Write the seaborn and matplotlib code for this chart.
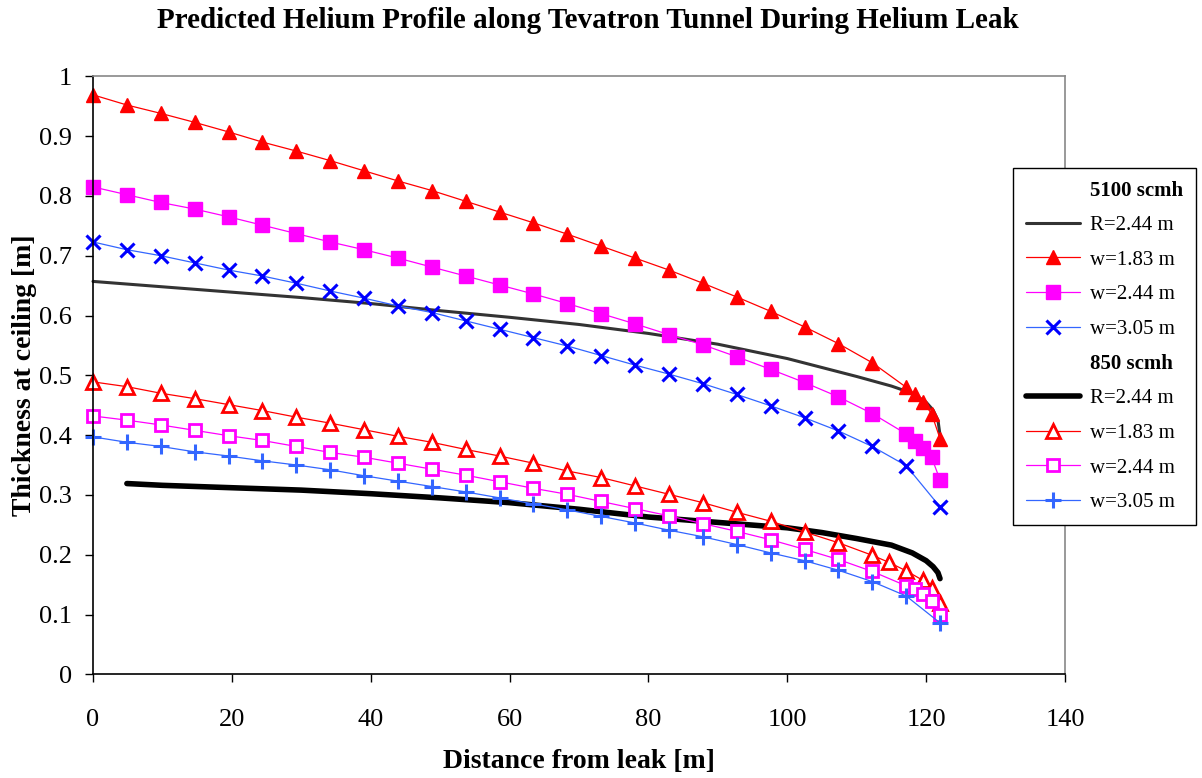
import matplotlib
matplotlib.use("Agg")
import matplotlib.pyplot as plt
from matplotlib.lines import Line2D
from matplotlib.ticker import FuncFormatter
import seaborn as sns

# distances of the marked points [m]
dist_grid = [0, 4.88, 9.76, 14.64, 19.52, 24.40, 29.28, 34.16, 39.04, 43.92,
             48.80, 53.68, 58.56, 63.44, 68.32, 73.20, 78.08, 82.96, 87.84,
             92.72, 97.60, 102.48, 107.36, 112.24, 117.12]
dist_tail = [118.34, 119.56, 120.78, 122.0]
dist_end = [122.0]
dist_tail_850_183 = [114.68, 117.12, 119.56, 120.78, 122.0]

# 5100 scmh
x_5100_R = [0, 10, 20, 30, 40, 50, 60, 70, 80, 90, 100, 105, 110, 115, 118,
            120, 121, 121.7, 122]
y_5100_R = [0.657, 0.648, 0.639, 0.630, 0.620, 0.608, 0.597, 0.585, 0.570,
            0.552, 0.528, 0.513, 0.498, 0.482, 0.470, 0.455, 0.442, 0.425, 0.400]
y_5100_w183 = [0.969, 0.952, 0.938, 0.923, 0.907, 0.890, 0.875, 0.859, 0.842,
               0.825, 0.809, 0.791, 0.773, 0.755, 0.736, 0.716, 0.696, 0.676,
               0.654, 0.631, 0.607, 0.581, 0.553, 0.521, 0.480,
               0.468, 0.455, 0.436, 0.394]
y_5100_w244 = [0.815, 0.802, 0.789, 0.778, 0.765, 0.751, 0.737, 0.723, 0.710,
               0.696, 0.681, 0.666, 0.651, 0.636, 0.620, 0.603, 0.586, 0.568,
               0.551, 0.531, 0.510, 0.488, 0.464, 0.436, 0.402,
               0.390, 0.378, 0.363, 0.325]
y_5100_w305 = [0.723, 0.710, 0.700, 0.688, 0.676, 0.666, 0.654, 0.641, 0.629,
               0.616, 0.605, 0.591, 0.577, 0.563, 0.549, 0.533, 0.517, 0.502,
               0.486, 0.468, 0.449, 0.429, 0.407, 0.381, 0.349,
               0.280]

# 850 scmh
x_850_R = [4.88, 10, 20, 30, 40, 50, 60, 70, 80, 90, 100, 105, 110, 115, 118,
           120, 121, 121.7, 122]
y_850_R = [0.319, 0.316, 0.312, 0.308, 0.302, 0.295, 0.287, 0.276, 0.263,
           0.254, 0.245, 0.237, 0.227, 0.216, 0.203, 0.190, 0.180, 0.170, 0.160]
y_850_w183 = [0.489, 0.481, 0.470, 0.461, 0.451, 0.441, 0.430, 0.420, 0.409,
              0.398, 0.388, 0.376, 0.365, 0.353, 0.340, 0.329, 0.315, 0.301,
              0.287, 0.271, 0.256, 0.238, 0.220, 0.199,
              0.187, 0.173, 0.157, 0.144, 0.119]
y_850_w244 = [0.432, 0.425, 0.417, 0.408, 0.399, 0.391, 0.381, 0.371, 0.363,
              0.353, 0.343, 0.333, 0.322, 0.311, 0.301, 0.289, 0.277, 0.265,
              0.252, 0.239, 0.225, 0.209, 0.192, 0.172, 0.148,
              0.142, 0.134, 0.123, 0.099]
y_850_w305 = [0.397, 0.388, 0.381, 0.372, 0.365, 0.357, 0.350, 0.342, 0.332,
              0.323, 0.314, 0.305, 0.295, 0.285, 0.275, 0.264, 0.253, 0.241,
              0.230, 0.217, 0.203, 0.190, 0.174, 0.155, 0.131,
              0.086]

sns.set_style("white")
plt.rcParams['font.family'] = ['Liberation Serif', 'DejaVu Serif']
plt.rcParams['text.color'] = 'black'
plt.rcParams['axes.labelcolor'] = 'black'

fig, ax = plt.subplots(figsize=(12.02, 7.78), dpi=100)
fig.subplots_adjust(left=93/1202, right=1065/1202, bottom=1-674.3/778, top=1-76.3/778)


def draw(x, y, label, **kw):
    sns.lineplot(x=x, y=y, ax=ax, label=label, estimator=None, sort=False,
                 clip_on=False, **kw)


red = '#ff0000'
mag = '#ff00ff'
blue = '#3366ff'

draw(x_5100_R, y_5100_R, 'R=2.44 m', color='#333333', linewidth=2.2)
draw(dist_grid + dist_tail, y_5100_w183, 'w=1.83 m', color=red, linewidth=0.9,
     marker='^', markersize=10, markerfacecolor=red, markeredgecolor=red, markeredgewidth=1)
draw(dist_grid + dist_tail, y_5100_w244, 'w=2.44 m', color=mag, linewidth=0.9,
     marker='s', markersize=9.5, markerfacecolor=mag, markeredgecolor=mag, markeredgewidth=1)
draw(dist_grid + dist_end, y_5100_w305, 'w=3.05 m', color=blue, linewidth=0.9,
     marker='x', markersize=10, markerfacecolor='#0000ff', markeredgecolor='#0000ff',
     markeredgewidth=2.2)

draw(x_850_R, y_850_R, 'R=2.44 m', color='black', linewidth=4, solid_capstyle='round')
draw(dist_grid[:24] + dist_tail_850_183, y_850_w183, 'w=1.83 m', color=red, linewidth=0.9,
     marker='^', markersize=10, markerfacecolor='white', markeredgecolor=red, markeredgewidth=2)
draw(dist_grid + dist_tail, y_850_w244, 'w=2.44 m', color=mag, linewidth=0.9,
     marker='s', markersize=8.5, markerfacecolor='white', markeredgecolor=mag, markeredgewidth=2)
draw(dist_grid + dist_end, y_850_w305, 'w=3.05 m', color=blue, linewidth=0.9,
     marker='+', markersize=11, markerfacecolor=blue, markeredgecolor=blue, markeredgewidth=2.2)

ax.set_xlim(0, 140)
ax.set_ylim(0, 1)
ax.set_xticks(range(0, 141, 20))
ax.set_yticks([i / 10 for i in range(11)])
ax.yaxis.set_major_formatter(FuncFormatter(lambda v, p: f'{v:g}'))
ax.tick_params(axis='both', direction='out', length=6, width=1, colors='black', labelsize=19)
ax.tick_params(axis='x', bottom=True, pad=19)
ax.tick_params(axis='y', left=True, pad=9)

for side in ['left', 'bottom']:
    ax.spines[side].set_color('black')
    ax.spines[side].set_linewidth(1.2)
for side in ['top', 'right']:
    ax.spines[side].set_color('#888888')
    ax.spines[side].set_linewidth(1.2)

ax.set_xlabel('Distance from leak [m]', fontsize=20, fontweight='bold', color='black')
ax.set_ylabel('Thickness at ceiling [m]', fontsize=20, fontweight='bold', color='black')
ax.xaxis.set_label_coords(0.5, -0.125)
ax.yaxis.set_label_coords(-0.058, 0.5)

fig.text(0.489, 1 - 21/778, 'Predicted Helium Profile along Tevatron Tunnel During Helium Leak',
         ha='center', va='center', fontsize=21, fontweight='bold', color='black')

# legend with two group headings
handles, labels = ax.get_legend_handles_labels()
blank = Line2D([], [], linestyle='none')
h = [blank] + handles[:4] + [blank] + handles[4:]
l = ['5100 scmh'] + labels[:4] + ['850 scmh'] + labels[4:]
leg = ax.legend(h, l, loc='upper left', bbox_to_anchor=(1013/1202, 1 - 168/778),
                bbox_transform=fig.transFigure, borderaxespad=0, frameon=True,
                fancybox=False, edgecolor='black', framealpha=1, fontsize=15,
                labelspacing=0.72, handlelength=2.6, handletextpad=0.5, borderpad=0.6)
leg.get_frame().set_linewidth(1.0)
for t in leg.get_texts():
    t.set_color('black')
    if t.get_text().endswith('scmh'):
        t.set_fontweight('bold')

fig.savefig('out.png', dpi=100)
